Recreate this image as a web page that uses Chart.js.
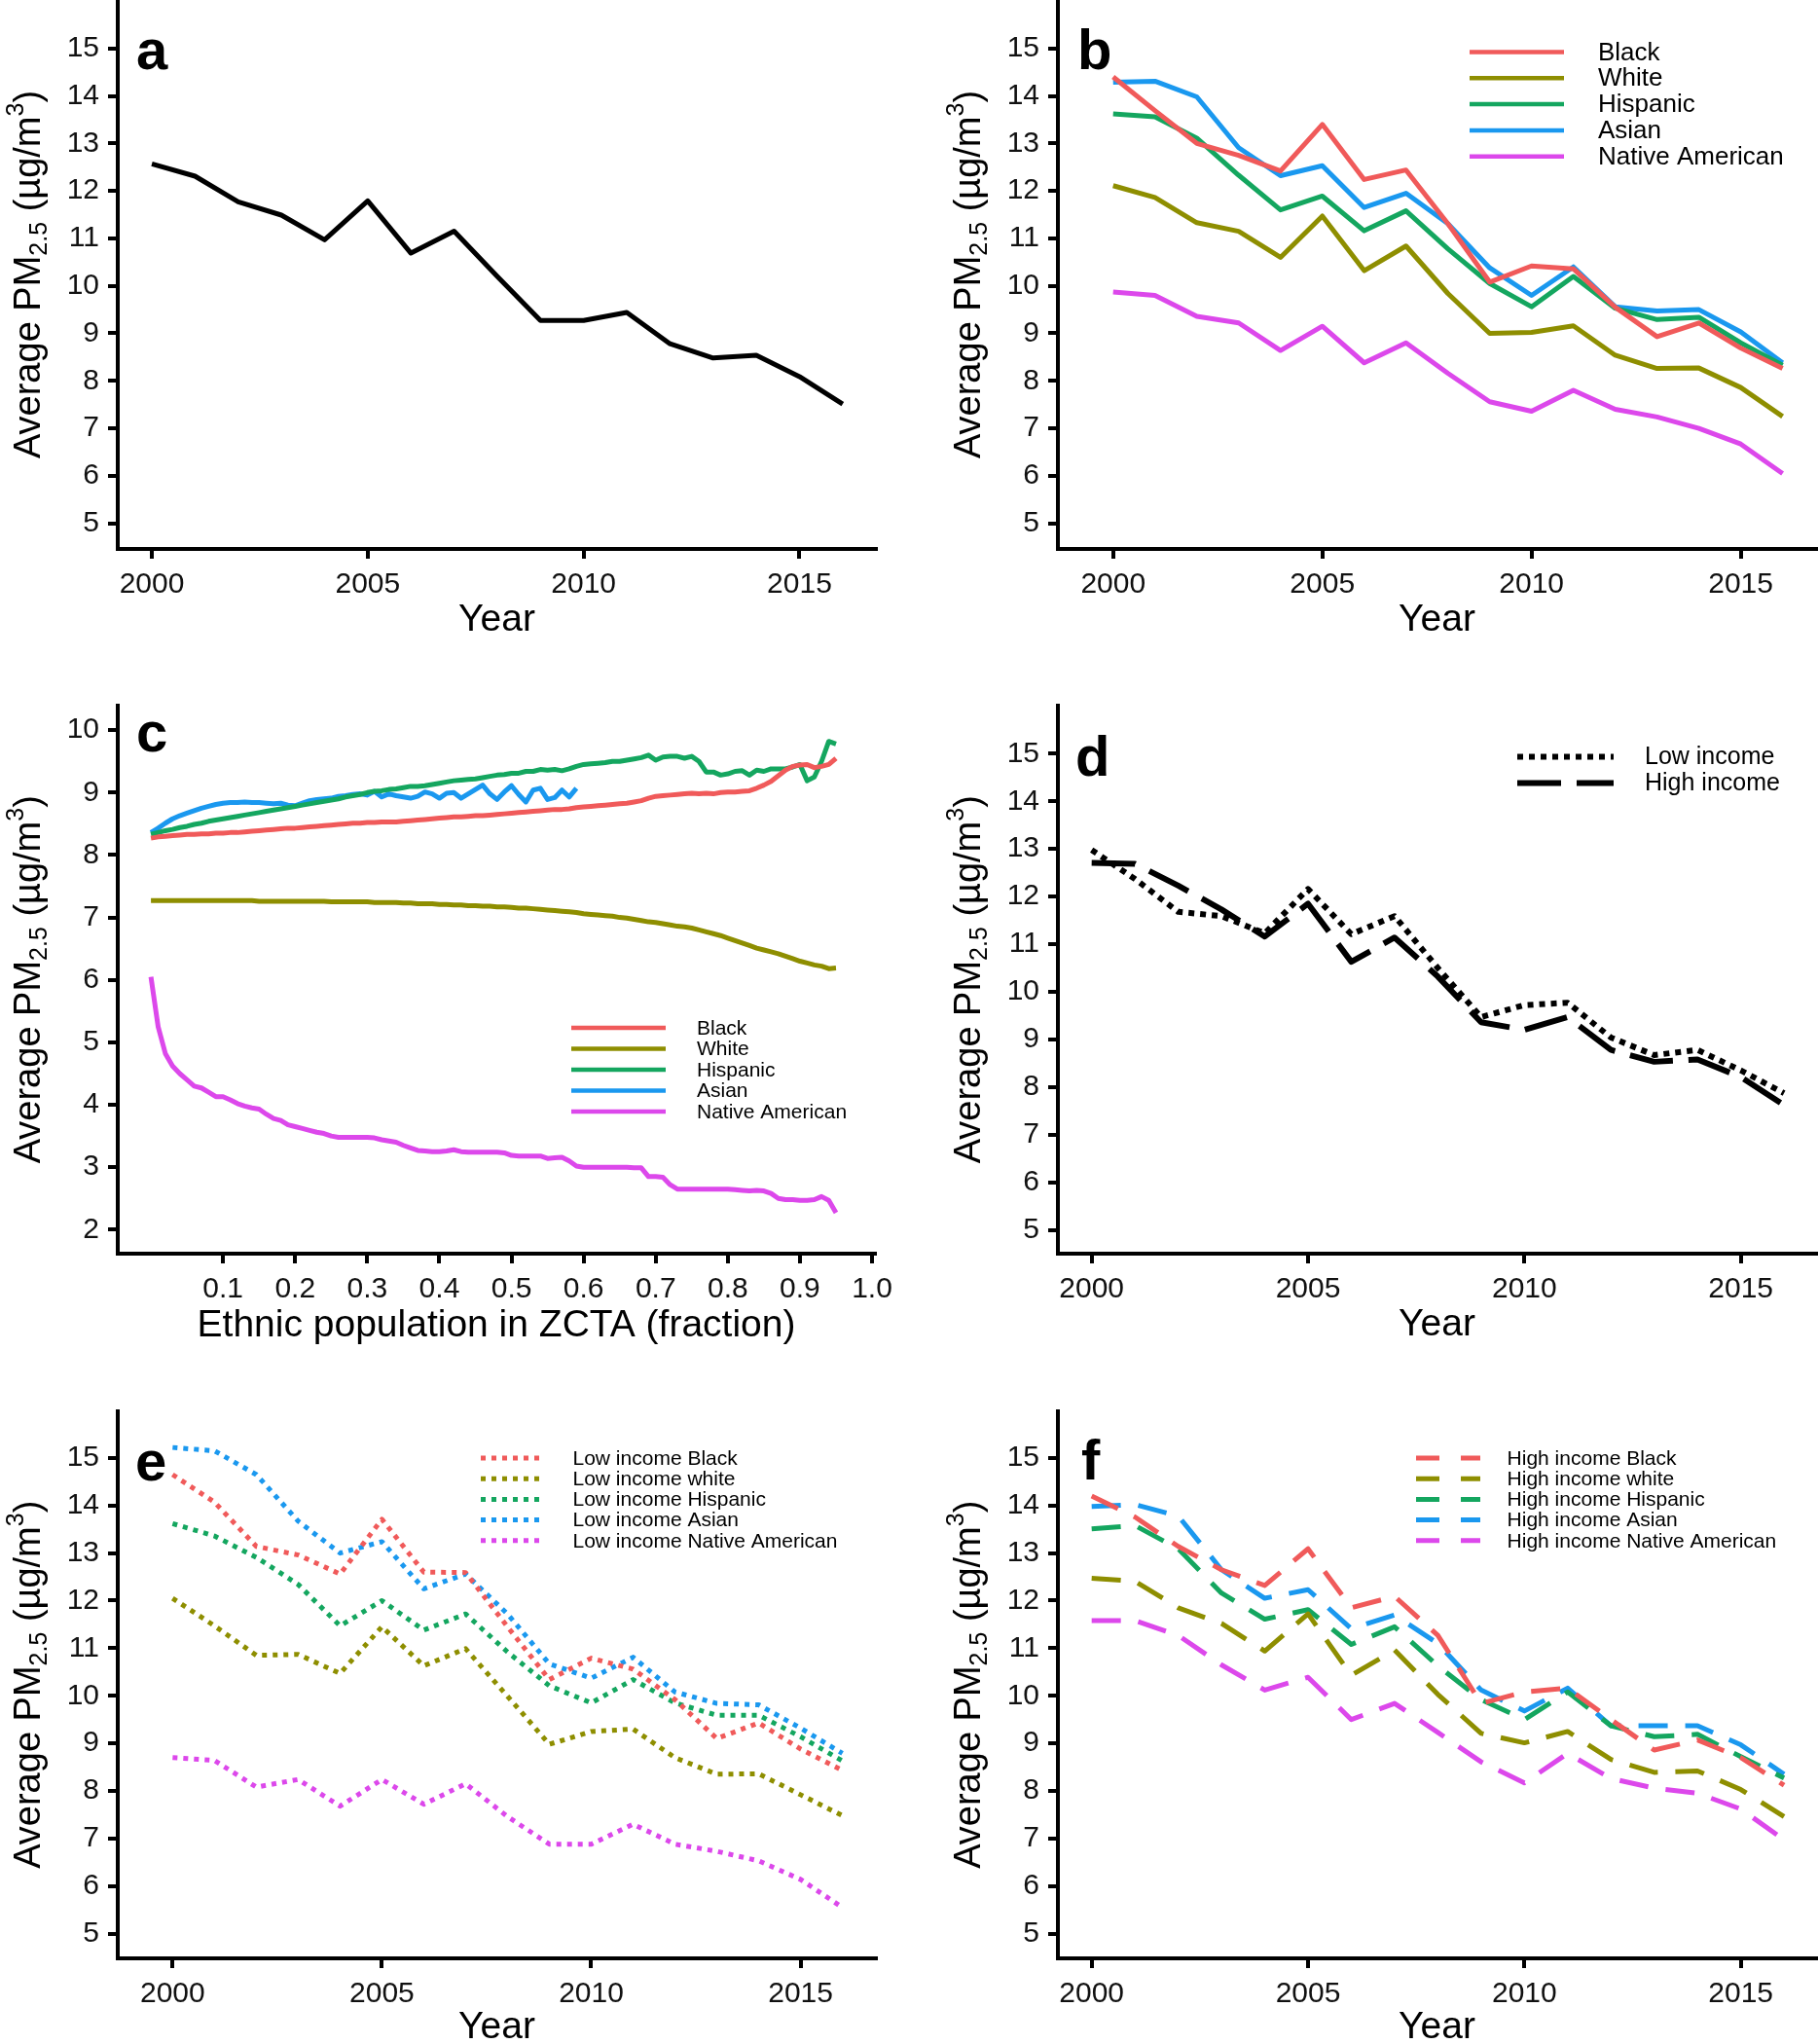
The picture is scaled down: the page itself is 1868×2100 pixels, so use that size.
<!DOCTYPE html>
<html>
<head>
<meta charset="utf-8">
<script src="https://cdn.jsdelivr.net/npm/chart.js@4.4.1/dist/chart.umd.min.js"></script>
<style>
  body { margin: 0; background: #fff; }
  #wrap { position: relative; width: 1868px; height: 2100px; background: #fff; overflow: hidden; }
  canvas { position: absolute; }
</style>
</head>
<body>
<div id="wrap">
  <canvas id="pa" width="934" height="700" style="left:0;top:0"></canvas>
  <canvas id="pb" width="934" height="700" style="left:934px;top:0"></canvas>
  <canvas id="pc" width="934" height="720" style="left:0;top:700px"></canvas>
  <canvas id="pd" width="934" height="720" style="left:934px;top:700px"></canvas>
  <canvas id="pe" width="934" height="680" style="left:0;top:1420px"></canvas>
  <canvas id="pf" width="934" height="680" style="left:934px;top:1420px"></canvas>
</div>
<script>
const FF = '"Liberation Sans", Arial, Helvetica, sans-serif';
const RED = '#F05A5A', OLV = '#8E8E00', GRN = '#14A65F', BLU = '#1A98EF', MAG = '#DC48EB';
const COLORS = [RED, OLV, GRN, BLU, MAG];

// ---- data ----
const YEARS = [2000, 2001, 2002, 2003, 2004, 2005, 2006, 2007, 2008, 2009, 2010, 2011, 2012, 2013, 2014, 2015, 2016];
const YEAR_TICKS = [2000, 2005, 2010, 2015];
const PM_TICKS = [5, 6, 7, 8, 9, 10, 11, 12, 13, 14, 15];

// a: all
const A_ALL = [12.57, 12.31, 11.77, 11.49, 10.97, 11.79, 10.69, 11.15, 10.20, 9.27, 9.27, 9.44, 8.78, 8.48, 8.54, 8.09, 7.51];

// b: by ethnicity
const RACES = ['Black', 'White', 'Hispanic', 'Asian', 'Native American'];
const B_BLACK  = [14.40, 13.69, 13.00, 12.75, 12.42, 13.40, 12.24, 12.44, 11.31, 10.08, 10.42, 10.36, 9.55, 8.93, 9.22, 8.69, 8.26];
const B_WHITE  = [12.11, 11.86, 11.33, 11.15, 10.60, 11.47, 10.32, 10.84, 9.84, 9.00, 9.02, 9.16, 8.54, 8.26, 8.27, 7.86, 7.25];
const B_HISP   = [13.62, 13.56, 13.11, 12.33, 11.60, 11.89, 11.16, 11.58, 10.78, 10.05, 9.56, 10.20, 9.53, 9.29, 9.34, 8.80, 8.33];
const B_ASIAN  = [14.29, 14.31, 13.98, 12.91, 12.32, 12.53, 11.65, 11.95, 11.31, 10.38, 9.80, 10.40, 9.56, 9.47, 9.50, 9.03, 8.38];
const B_NATIVE = [9.87, 9.80, 9.36, 9.22, 8.64, 9.15, 8.38, 8.80, 8.16, 7.56, 7.36, 7.80, 7.40, 7.24, 7.00, 6.67, 6.05];

// c: vs ethnic fraction in ZCTA
const FRAC = [0.00, 0.01, 0.02, 0.03, 0.04, 0.05, 0.06, 0.07, 0.08, 0.09,
  0.10, 0.11, 0.12, 0.13, 0.14, 0.15, 0.16, 0.17, 0.18, 0.19,
  0.20, 0.21, 0.22, 0.23, 0.24, 0.25, 0.26, 0.27, 0.28, 0.29,
  0.30, 0.31, 0.32, 0.33, 0.34, 0.35, 0.36, 0.37, 0.38, 0.39,
  0.40, 0.41, 0.42, 0.43, 0.44, 0.45, 0.46, 0.47, 0.48, 0.49,
  0.50, 0.51, 0.52, 0.53, 0.54, 0.55, 0.56, 0.57, 0.58, 0.59,
  0.60, 0.61, 0.62, 0.63, 0.64, 0.65, 0.66, 0.67, 0.68, 0.69,
  0.70, 0.71, 0.72, 0.73, 0.74, 0.75, 0.76, 0.77, 0.78, 0.79,
  0.80, 0.81, 0.82, 0.83, 0.84, 0.85, 0.86, 0.87, 0.88, 0.89,
  0.90, 0.91, 0.92, 0.93, 0.94, 0.95];
const FRAC_TICKS = [0.1, 0.2, 0.3, 0.4, 0.5, 0.6, 0.7, 0.8, 0.9, 1.0];
const C_TICKS = [2, 3, 4, 5, 6, 7, 8, 9, 10];
const C_BLACK = [8.27, 8.29, 8.30, 8.31, 8.32, 8.33, 8.33, 8.34, 8.34, 8.35,
  8.35, 8.36, 8.36, 8.37, 8.38, 8.39, 8.40, 8.41, 8.42, 8.43,
  8.43, 8.44, 8.45, 8.46, 8.47, 8.48, 8.49, 8.50, 8.51, 8.51,
  8.52, 8.52, 8.53, 8.53, 8.53, 8.54, 8.55, 8.56, 8.57, 8.58,
  8.59, 8.60, 8.61, 8.61, 8.62, 8.63, 8.63, 8.64, 8.65, 8.66,
  8.67, 8.68, 8.69, 8.70, 8.71, 8.72, 8.73, 8.73, 8.74, 8.76,
  8.77, 8.78, 8.79, 8.80, 8.81, 8.82, 8.83, 8.85, 8.87, 8.91,
  8.94, 8.95, 8.96, 8.97, 8.98, 8.99, 8.98, 8.99, 8.98, 9.00,
  9.01, 9.01, 9.02, 9.03, 9.07, 9.12, 9.18, 9.27, 9.36, 9.42,
  9.44, 9.45, 9.40, 9.42, 9.45, 9.55];
const C_WHITE = [7.27, 7.27, 7.27, 7.27, 7.27, 7.27, 7.27, 7.27, 7.27, 7.27,
  7.27, 7.27, 7.27, 7.27, 7.27, 7.26, 7.26, 7.26, 7.26, 7.26,
  7.26, 7.26, 7.26, 7.26, 7.26, 7.25, 7.25, 7.25, 7.25, 7.25,
  7.25, 7.24, 7.24, 7.24, 7.24, 7.23, 7.23, 7.22, 7.22, 7.22,
  7.21, 7.21, 7.20, 7.20, 7.19, 7.19, 7.18, 7.18, 7.17, 7.17,
  7.16, 7.15, 7.15, 7.14, 7.13, 7.12, 7.11, 7.10, 7.09, 7.08,
  7.06, 7.05, 7.04, 7.03, 7.02, 7.00, 6.99, 6.97, 6.95, 6.93,
  6.92, 6.90, 6.88, 6.86, 6.85, 6.83, 6.80, 6.77, 6.74, 6.71,
  6.67, 6.63, 6.59, 6.55, 6.51, 6.48, 6.45, 6.42, 6.38, 6.34,
  6.30, 6.27, 6.24, 6.22, 6.18, 6.19];
const C_HISP = [8.33, 8.36, 8.39, 8.41, 8.44, 8.46, 8.49, 8.51, 8.54, 8.56,
  8.58, 8.60, 8.62, 8.64, 8.66, 8.68, 8.70, 8.72, 8.74, 8.76,
  8.78, 8.80, 8.82, 8.84, 8.86, 8.88, 8.90, 8.93, 8.95, 8.97,
  9.00, 9.02, 9.03, 9.05, 9.06, 9.08, 9.10, 9.10, 9.11, 9.13,
  9.15, 9.17, 9.19, 9.20, 9.21, 9.22, 9.24, 9.26, 9.28, 9.29,
  9.31, 9.31, 9.34, 9.34, 9.37, 9.36, 9.37, 9.35, 9.38, 9.42,
  9.45, 9.46, 9.47, 9.48, 9.50, 9.50, 9.52, 9.54, 9.56, 9.60,
  9.52, 9.57, 9.58, 9.58, 9.55, 9.58, 9.50, 9.33, 9.33, 9.28,
  9.30, 9.34, 9.35, 9.28, 9.36, 9.34, 9.38, 9.38, 9.38, 9.41,
  9.45, 9.19, 9.25, 9.50, 9.82, 9.78];
const C_ASIAN = [8.36, 8.43, 8.51, 8.58, 8.63, 8.67, 8.71, 8.75, 8.78, 8.81,
  8.83, 8.84, 8.84, 8.85, 8.84, 8.84, 8.83, 8.82, 8.83, 8.80,
  8.79, 8.83, 8.87, 8.89, 8.90, 8.91, 8.94, 8.95, 8.97, 8.98,
  8.96, 9.02, 8.93, 8.98, 8.95, 8.93, 8.91, 8.94, 9.01, 8.98,
  8.91, 8.99, 9.00, 8.91, 8.98, 9.05, 9.12, 8.98, 8.89, 9.01,
  9.11, 8.97, 8.85, 9.04, 9.07, 8.89, 8.92, 9.04, 8.93, 9.07];
const C_NATIVE = [6.05, 5.25, 4.82, 4.62, 4.50, 4.40, 4.30, 4.27, 4.20, 4.13,
  4.13, 4.08, 4.02, 3.98, 3.95, 3.93, 3.85, 3.78, 3.75, 3.68,
  3.65, 3.62, 3.59, 3.56, 3.54, 3.50, 3.48, 3.48, 3.48, 3.48,
  3.48, 3.47, 3.44, 3.42, 3.40, 3.35, 3.31, 3.27, 3.26, 3.25,
  3.25, 3.26, 3.28, 3.25, 3.24, 3.24, 3.24, 3.24, 3.24, 3.23,
  3.19, 3.18, 3.18, 3.18, 3.18, 3.14, 3.15, 3.16, 3.10, 3.02,
  3.00, 3.00, 3.00, 3.00, 3.00, 3.00, 3.00, 2.99, 2.99, 2.85,
  2.85, 2.84, 2.72, 2.65, 2.65, 2.65, 2.65, 2.65, 2.65, 2.65,
  2.65, 2.64, 2.63, 2.62, 2.63, 2.62, 2.58, 2.50, 2.48, 2.48,
  2.47, 2.47, 2.48, 2.53, 2.47, 2.27];

// d: by income
const D_LOW  = [12.98, 12.37, 11.68, 11.59, 11.23, 12.16, 11.21, 11.59, 10.50, 9.47, 9.72, 9.77, 9.04, 8.67, 8.78, 8.35, 7.87];
const D_HIGH = [12.71, 12.69, 12.23, 11.73, 11.16, 11.85, 10.63, 11.14, 10.32, 9.36, 9.20, 9.47, 8.78, 8.53, 8.58, 8.21, 7.62];

// e: low income by ethnicity
const E_LABELS = ['Low income Black', 'Low income white', 'Low income Hispanic', 'Low income Asian', 'Low income Native American'];
const E_BLACK  = [14.65, 14.07, 13.14, 12.96, 12.56, 13.71, 12.60, 12.59, 11.45, 10.34, 10.79, 10.56, 9.92, 9.10, 9.43, 8.88, 8.43];
const E_WHITE  = [12.05, 11.47, 10.85, 10.87, 10.47, 11.45, 10.63, 10.99, 9.99, 8.98, 9.25, 9.30, 8.70, 8.35, 8.36, 7.92, 7.48];
const E_HISP   = [13.62, 13.36, 12.91, 12.34, 11.47, 12.00, 11.38, 11.72, 10.92, 10.21, 9.85, 10.34, 9.85, 9.59, 9.59, 9.14, 8.63];
const E_ASIAN  = [15.22, 15.15, 14.65, 13.67, 13.00, 13.24, 12.25, 12.56, 11.72, 10.67, 10.37, 10.81, 10.08, 9.84, 9.81, 9.32, 8.79];
const E_NATIVE = [8.70, 8.64, 8.08, 8.24, 7.68, 8.24, 7.72, 8.15, 7.46, 6.88, 6.88, 7.30, 6.88, 6.73, 6.53, 6.14, 5.55];

// f: high income by ethnicity
const F_LABELS = ['High income Black', 'High income white', 'High income Hispanic', 'High income Asian', 'High income Native American'];
const F_BLACK  = [14.20, 13.76, 13.14, 12.65, 12.32, 13.09, 11.85, 12.09, 11.27, 9.84, 10.08, 10.16, 9.50, 8.86, 9.07, 8.70, 8.12];
const F_WHITE  = [12.47, 12.41, 11.85, 11.52, 10.94, 11.72, 10.43, 10.96, 10.03, 9.21, 9.01, 9.25, 8.66, 8.39, 8.42, 8.03, 7.46];
const F_HISP   = [13.51, 13.58, 13.09, 12.16, 11.61, 11.81, 11.08, 11.45, 10.63, 9.92, 9.50, 10.08, 9.37, 9.14, 9.19, 8.72, 8.27];
const F_ASIAN  = [13.98, 14.02, 13.78, 12.65, 12.05, 12.23, 11.41, 11.70, 11.10, 10.12, 9.68, 10.16, 9.37, 9.37, 9.37, 8.97, 8.35];
const F_NATIVE = [11.58, 11.58, 11.27, 10.65, 10.12, 10.39, 9.50, 9.84, 9.23, 8.61, 8.17, 8.79, 8.26, 8.06, 7.95, 7.62, 6.97];

// ---- drawing helpers ----
function yTitle(ctx, cx, cy) {
  const big = '38px ' + FF, small = '25px ' + FF;
  const parts = [['Average PM', big, 0], ['2.5', small, 7], [' (\u00b5g/m', big, 0], ['3', small, -17], [')', big, 0]];
  ctx.save();
  ctx.translate(cx, cy);
  ctx.rotate(-Math.PI / 2);
  ctx.textAlign = 'left';
  ctx.textBaseline = 'alphabetic';
  let total = 0;
  parts.forEach(p => { ctx.font = p[1]; total += ctx.measureText(p[0]).width; });
  let x = -total / 2;
  parts.forEach(p => {
    ctx.font = p[1];
    ctx.fillText(p[0], x, 13.5 + p[2]);
    x += ctx.measureText(p[0]).width;
  });
  ctx.restore();
}

const decor = {
  id: 'decor',
  afterDraw(chart, args, o) {
    const { ctx, chartArea: a } = chart;
    ctx.save();
    ctx.fillStyle = '#000';
    ctx.font = 'bold 58px ' + FF;
    ctx.textAlign = 'left';
    ctx.textBaseline = 'alphabetic';
    ctx.fillText(o.letter, a.left + o.lx, a.top + o.ly);

    ctx.font = '39px ' + FF;
    ctx.textAlign = 'center';
    ctx.textBaseline = 'middle';
    ctx.fillText(o.xTitle, (a.left + a.right) / 2, a.bottom + o.xty);
    yTitle(ctx, a.left - 94, (a.top + a.bottom) / 2);

    const lg = o.legend;
    if (lg) {
      chart.data.datasets.forEach((ds, i) => {
        const y = a.top + lg.y0 + i * lg.dy;
        ctx.strokeStyle = ds.borderColor;
        ctx.lineWidth = lg.w || ds.borderWidth;
        ctx.lineCap = 'butt';
        ctx.setLineDash(lg.dash || ds.borderDash || []);
        ctx.beginPath();
        ctx.moveTo(a.left + lg.x1, y);
        ctx.lineTo(a.left + lg.x2, y);
        ctx.stroke();
        ctx.setLineDash([]);
        ctx.font = lg.size + 'px ' + FF;
        ctx.textAlign = 'left';
        ctx.textBaseline = 'middle';
        ctx.fillText(ds.label, a.left + lg.tx, y + 1);
      });
    }
    ctx.restore();
  }
};

const axis = (min, max, ticks, fmt, fit) => ({
  type: 'linear', min, max,
  afterBuildTicks: s => { s.ticks = ticks.map(v => ({ value: v })); },
  afterFit: fit,
  ticks: { autoSkip: false, maxRotation: 0, padding: 9, color: '#111', font: { size: 30, family: FF }, callback: fmt },
  grid: { drawOnChartArea: false, tickLength: 10, lineWidth: 4, color: '#000' },
  border: { display: true, width: 4, color: '#000' }
});

function panel(id, box, xr, xt, xfmt, yr, yt, series, deco) {
  const { W, H, L, R, T, B } = box;
  return new Chart(document.getElementById(id), {
    type: 'line',
    data: {
      datasets: series.map(s => ({
        label: s.label,
        data: s.y.map((y, i) => ({ x: s.x[i], y })),
        borderColor: s.color, borderWidth: s.w || 5, borderDash: s.dash || [],
        pointRadius: 0, fill: false, tension: 0,
        borderJoinStyle: 'round', borderCapStyle: 'butt'
      }))
    },
    options: {
      responsive: false, animation: false, devicePixelRatio: 1,
      layout: { padding: { left: 0, top: T, right: W - R, bottom: 0 } },
      plugins: { legend: { display: false }, tooltip: { enabled: false }, decor: deco },
      scales: {
        x: axis(xr[0], xr[1], xt, xfmt, s => { s.height = H - B; s.paddingLeft = 0; s.paddingRight = 0; }),
        y: axis(yr[0], yr[1], yt, v => String(v), s => { s.width = L; s.paddingTop = 0; s.paddingBottom = 0; })
      }
    },
    plugins: [decor]
  });
}

const yearFmt = v => String(v);
const fracFmt = v => v.toFixed(1);
const PM_RANGE = [4.46, 16.02];
const five = (ys, labels, extra) => ys.map((y, i) => Object.assign({ label: labels[i], x: YEARS, y, color: COLORS[i] }, extra));

panel('pa', { W: 934, H: 700, L: 121, R: 900, T: 0, B: 564 },
  [1999.21, 2016.77], YEAR_TICKS, yearFmt, PM_RANGE, PM_TICKS,
  [{ label: 'All', x: YEARS, y: A_ALL, color: '#000' }],
  { letter: 'a', lx: 19, ly: 71, xTitle: 'Year', xty: 73 });

panel('pb', { W: 934, H: 700, L: 153, R: 932, T: 0, B: 564 },
  [1998.68, 2016.8], YEAR_TICKS, yearFmt, PM_RANGE, PM_TICKS,
  five([B_BLACK, B_WHITE, B_HISP, B_ASIAN, B_NATIVE], RACES, {}),
  { letter: 'b', lx: 20, ly: 71, xTitle: 'Year', xty: 73,
    legend: { x1: 423, x2: 520, tx: 555, y0: 53.5, dy: 26.8, size: 26, w: 4.5 } });

panel('pc', { W: 934, H: 720, L: 121, R: 899, T: 24.5, B: 588 },
  [-0.046, 1.004], FRAC_TICKS, fracFmt, [1.616, 10.4], C_TICKS,
  [C_BLACK, C_WHITE, C_HISP, C_ASIAN, C_NATIVE].map((y, i) => ({ label: RACES[i], x: FRAC, y, color: COLORS[i] })),
  { letter: 'c', lx: 19, ly: 47.5, xTitle: 'Ethnic population in ZCTA (fraction)', xty: 74,
    legend: { x1: 466, x2: 563, tx: 595, y0: 331.5, dy: 21.5, size: 21, w: 4.5 } });

panel('pd', { W: 934, H: 720, L: 153, R: 932, T: 24.5, B: 588 },
  [1999.22, 2016.74], YEAR_TICKS, yearFmt, [4.5, 16.02], PM_TICKS,
  [{ label: 'Low income', x: YEARS, y: D_LOW, color: '#000', w: 6, dash: [6, 6] },
   { label: 'High income', x: YEARS, y: D_HIGH, color: '#000', w: 6, dash: [45, 16] }],
  { letter: 'd', lx: 18, ly: 72.5, xTitle: 'Year', xty: 73,
    legend: { x1: 472, x2: 571, tx: 603, y0: 53, dy: 27, size: 25 } });

panel('pe', { W: 934, H: 680, L: 121, R: 900, T: 29.5, B: 592 },
  [1998.69, 2016.8], YEAR_TICKS, yearFmt, [4.48, 15.99], PM_TICKS,
  five([E_BLACK, E_WHITE, E_HISP, E_ASIAN, E_NATIVE], E_LABELS, { dash: [5, 6] }),
  { letter: 'e', lx: 18, ly: 71.5, xTitle: 'Year', xty: 71,
    legend: { x1: 373, x2: 439, tx: 467.5, y0: 48.5, dy: 21.2, size: 21 } });

panel('pf', { W: 934, H: 680, L: 153, R: 932, T: 29.5, B: 592 },
  [1999.22, 2016.74], YEAR_TICKS, yearFmt, [4.48, 15.99], PM_TICKS,
  five([F_BLACK, F_WHITE, F_HISP, F_ASIAN, F_NATIVE], F_LABELS, { dash: [30, 18] }),
  { letter: 'f', lx: 24, ly: 70.5, xTitle: 'Year', xty: 71,
    legend: { x1: 368, x2: 434, tx: 461.6, y0: 48.5, dy: 21.2, size: 21, dash: [24, 22] } });
</script>
</body>
</html>
